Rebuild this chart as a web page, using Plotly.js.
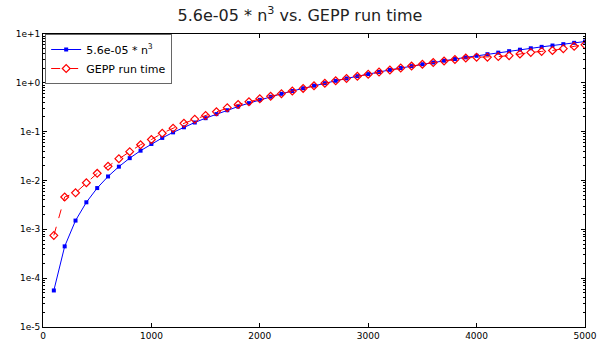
<!DOCTYPE html>
<html><head><meta charset="utf-8">
<script src="https://cdn.plot.ly/plotly-3.0.1.min.js"></script>
<style>html,body{margin:0;padding:0;background:#fff}#c{width:600px;height:341px}</style>
</head><body><div id="c"></div>
<script>
const n = [100,200,300,400,500,600,700,800,900,1000,1100,1200,1300,1400,1500,1600,1700,1800,1900,2000,
2100,2200,2300,2400,2500,2600,2700,2800,2900,3000,3100,3200,3300,3400,3500,3600,3700,3800,3900,4000,
4100,4200,4300,4400,4500,4600,4700,4800,4900,5000];
const modelTime = [0.000056,0.000448,0.00151,0.00358,0.0070,0.0121,0.0192,0.0287,0.0408,0.056,
0.0745,0.0968,0.123,0.154,0.189,0.229,0.275,0.327,0.384,0.448,
0.519,0.596,0.681,0.774,0.875,0.984,1.10,1.23,1.37,1.51,
1.67,1.84,2.01,2.20,2.40,2.61,2.84,3.07,3.32,3.58,
3.86,4.15,4.45,4.77,5.10,5.45,5.81,6.19,6.59,7.00];
const geppTime = [0.00075,0.0046,0.0056,0.0090,0.014,0.0195,0.028,0.039,0.054,0.069,
0.093,0.118,0.148,0.18,0.215,0.255,0.31,0.36,0.41,0.47,
0.53,0.60,0.68,0.77,0.87,0.98,1.10,1.23,1.36,1.50,
1.66,1.83,2.01,2.20,2.40,2.60,2.80,3.00,3.22,3.35,
3.35,3.45,3.6,3.9,4.2,4.4,4.6,5.0,5.6,6.0];
const yTickVals = [1e-5,1e-4,1e-3,1e-2,1e-1,1,10];
const yTickText = ['1e-5','1e-4','1e-3','1e-2','1e-1','1e+0','1e+1'];
const xTickVals = [0,1000,2000,3000,4000,5000];

const traces = [
 {x:n, y:modelTime, name:'5.6e-05 * n<sup>3</sup>', mode:'lines+markers', type:'scatter',
  line:{color:'#0000ff', width:1}, marker:{symbol:'square', size:4, color:'#0000ff'}},
 {x:n, y:geppTime, name:'GEPP run time', mode:'lines+markers', type:'scatter',
  line:{color:'#ff0000', width:1, dash:'dash'}, marker:{symbol:'diamond-open', size:6, color:'#ff0000', line:{width:1.2}}}
];
const axisCommon = {showline:true, linecolor:'#000', linewidth:1, mirror:'ticks', ticks:'inside',
  ticklen:4, tickcolor:'#000', showgrid:false, zeroline:false,
  tickfont:{family:'DejaVu Sans', size:9, color:'#000'}};
const layout = {
 width:600, height:341, paper_bgcolor:'#fff', plot_bgcolor:'#fff',
 margin:{l:43, r:15, t:34, b:14},
 title:{text:'5.6e-05 * n<sup>3</sup> vs. GEPP run time', font:{family:'DejaVu Sans', size:16, color:'#222'},
  x:0.5, xanchor:'center', y:0.955, yanchor:'middle'},
 xaxis:Object.assign({}, axisCommon, {range:[0,5000], tickmode:'array', tickvals:xTickVals, ticktext:xTickVals.map(String)}),
 yaxis:Object.assign({}, axisCommon, {type:'log', range:[-5,1], tickmode:'array', tickvals:yTickVals, ticktext:yTickText,
   minor:{ticks:'inside', ticklen:2, tickcolor:'#000', dtick:'D1', showgrid:false}}),
 showlegend:true,
 legend:{x:0.004, y:1, xanchor:'left', yanchor:'top', bgcolor:'#fff', bordercolor:'#666', borderwidth:1,
  font:{family:'DejaVu Sans', size:11, color:'#000'}, itemwidth:30, tracegroupgap:0}
};
Plotly.newPlot('c', traces, layout, {displayModeBar:false, staticPlot:true});
</script></body></html>
